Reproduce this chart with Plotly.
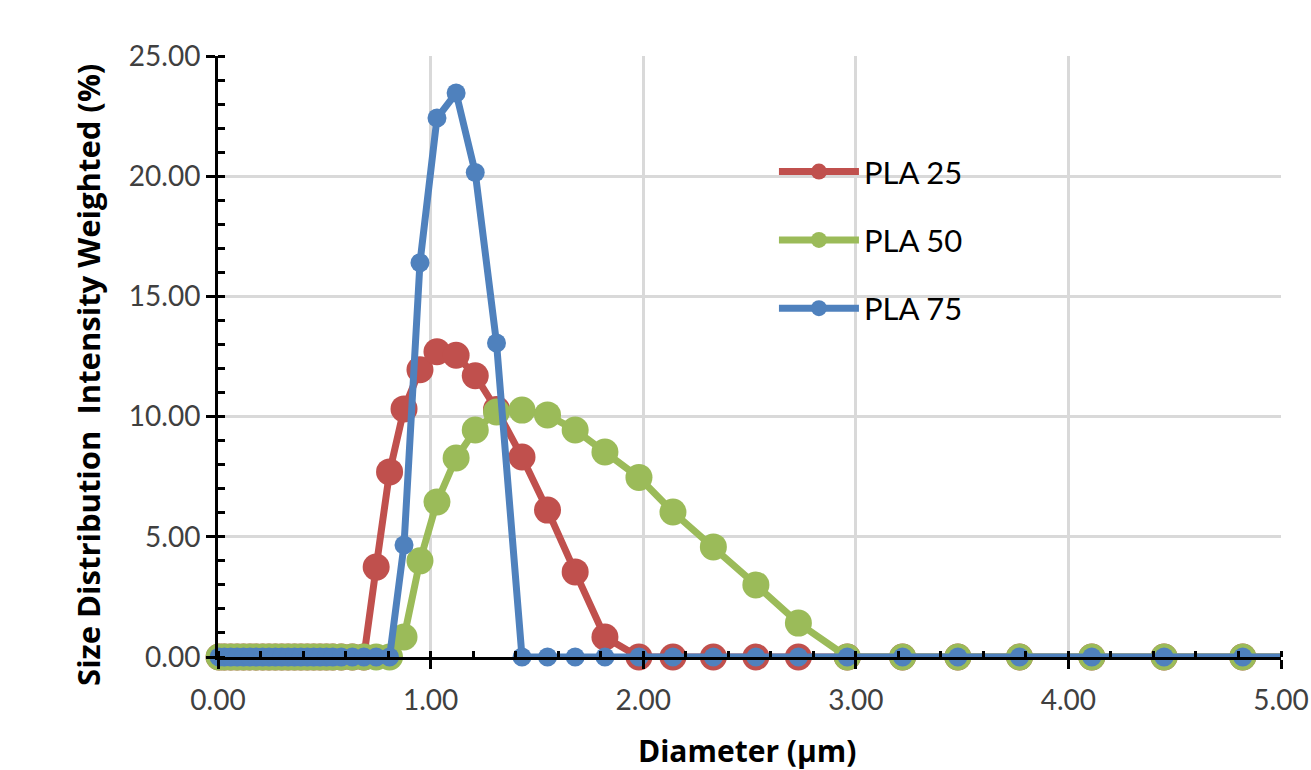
import plotly.graph_objects as go

# Diameter bins (µm)
diameter = [0.005, 0.03, 0.06, 0.09, 0.12, 0.15, 0.18, 0.21, 0.24, 0.27, 0.30, 0.33, 0.36,
            0.39, 0.42, 0.45, 0.48, 0.51, 0.54, 0.58, 0.632, 0.686, 0.744, 0.807, 0.875,
            0.95, 1.03, 1.12, 1.21, 1.31, 1.43, 1.55, 1.68, 1.82, 1.98, 2.14, 2.33, 2.53,
            2.73, 2.96, 3.22, 3.48, 3.77, 4.11, 4.45, 4.82, 5.23]

n_dense = 22  # bins from 0.005 to 0.686 are all zero
pla25 = [0.0] * n_dense + [3.74, 7.70, 10.32, 11.95, 12.70, 12.55, 11.70, 10.30, 8.32,
                           6.11, 3.54, 0.83, 0.0, 0.0, 0.0, 0.0, 0.0, 0.0, 0.0, 0.0,
                           0.0, 0.0, 0.0, 0.0, 0.0]
pla50 = [0.0] * n_dense + [0.0, 0.0, 0.83, 4.00, 6.45, 8.28, 9.44, 10.19, 10.27, 10.07,
                           9.44, 8.53, 7.47, 6.03, 4.58, 3.00, 1.41, 0.0, 0.0, 0.0,
                           0.0, 0.0, 0.0, 0.0, 0.0]
pla75 = [0.0] * n_dense + [0.0, 0.0, 4.66, 16.40, 22.42, 23.46, 20.15, 13.06, 0.0, 0.0,
                           0.0, 0.0, 0.0, 0.0, 0.0, 0.0, 0.0, 0.0, 0.0, 0.0,
                           0.0, 0.0, 0.0, 0.0, 0.0]

series_names = ["PLA 25", "PLA 50", "PLA 75"]
series_values = [pla25, pla50, pla75]
colors = ["#C0504D", "#9BBB59", "#4F81BD"]
marker_sizes = [27, 27, 19]

x_ticks = [0, 1, 2, 3, 4, 5]
x_ticklabels = ["0.00", "1.00", "2.00", "3.00", "4.00", "5.00"]
y_ticks = [0, 5, 10, 15, 20, 25]
y_ticklabels = ["0.00", "5.00", "10.00", "15.00", "20.00", "25.00"]

FONT = "Lato"
TITLE_FONT = "Open Sans"

fig = go.Figure()
for name, vals, col, ms in zip(series_names, series_values, colors, marker_sizes):
    fig.add_trace(go.Scatter(
        x=diameter, y=vals, name=name, mode="lines+markers",
        legendgroup=name, cliponaxis=False,
        line=dict(color=col, width=7),
        marker=dict(color=col, size=ms),
    ))

axis_common = dict(
    showline=True, linecolor="black", linewidth=3,
    showgrid=True, gridcolor="#D9D9D9", gridwidth=3,
    zeroline=False, automargin=False,
    ticks="outside", ticklen=9, tickwidth=3, tickcolor="black",
    tickfont=dict(family=FONT, size=28, color="#404040"),
)

fig.update_layout(
    width=1311, height=770,
    margin=dict(l=218, r=30, t=56, b=113),
    paper_bgcolor="white", plot_bgcolor="white",
    font=dict(family=FONT, color="black"),
    xaxis=dict(
        range=[0, 5], tickvals=x_ticks, ticktext=x_ticklabels,
        ticklabelstandoff=7,
        minor=dict(dtick=0.2, ticks="inside", ticklen=6, tickwidth=3, tickcolor="black", showgrid=False),
        **axis_common,
    ),
    yaxis=dict(
        range=[0, 25], tickvals=y_ticks, ticktext=y_ticklabels,
        minor=dict(dtick=1, ticks="inside", ticklen=7, tickwidth=3, tickcolor="black", showgrid=False),
        **axis_common,
    ),
    annotations=[
        dict(
            text="<b>Size Distribution  Intensity Weighted (%)</b>",
            xref="paper", yref="paper", x=-0.1225, y=0.469,
            xanchor="center", yanchor="middle", textangle=-90, showarrow=False,
            font=dict(family=TITLE_FONT, size=31, color="black"),
        ),
        dict(
            text="<b>Diameter (µm)</b>",
            xref="paper", yref="paper", x=0.4977, y=-0.155,
            xanchor="center", yanchor="middle", showarrow=False,
            font=dict(family=TITLE_FONT, size=30, color="black"),
        ),
    ],
    legend=dict(
        x=0.523, y=0.852, xanchor="left", yanchor="top",
        bgcolor="rgba(0,0,0,0)", borderwidth=0,
        font=dict(family=FONT, size=31, color="black"),
        itemwidth=80, tracegroupgap=25,
    ),
    showlegend=True,
)

fig.write_html("out.html")
